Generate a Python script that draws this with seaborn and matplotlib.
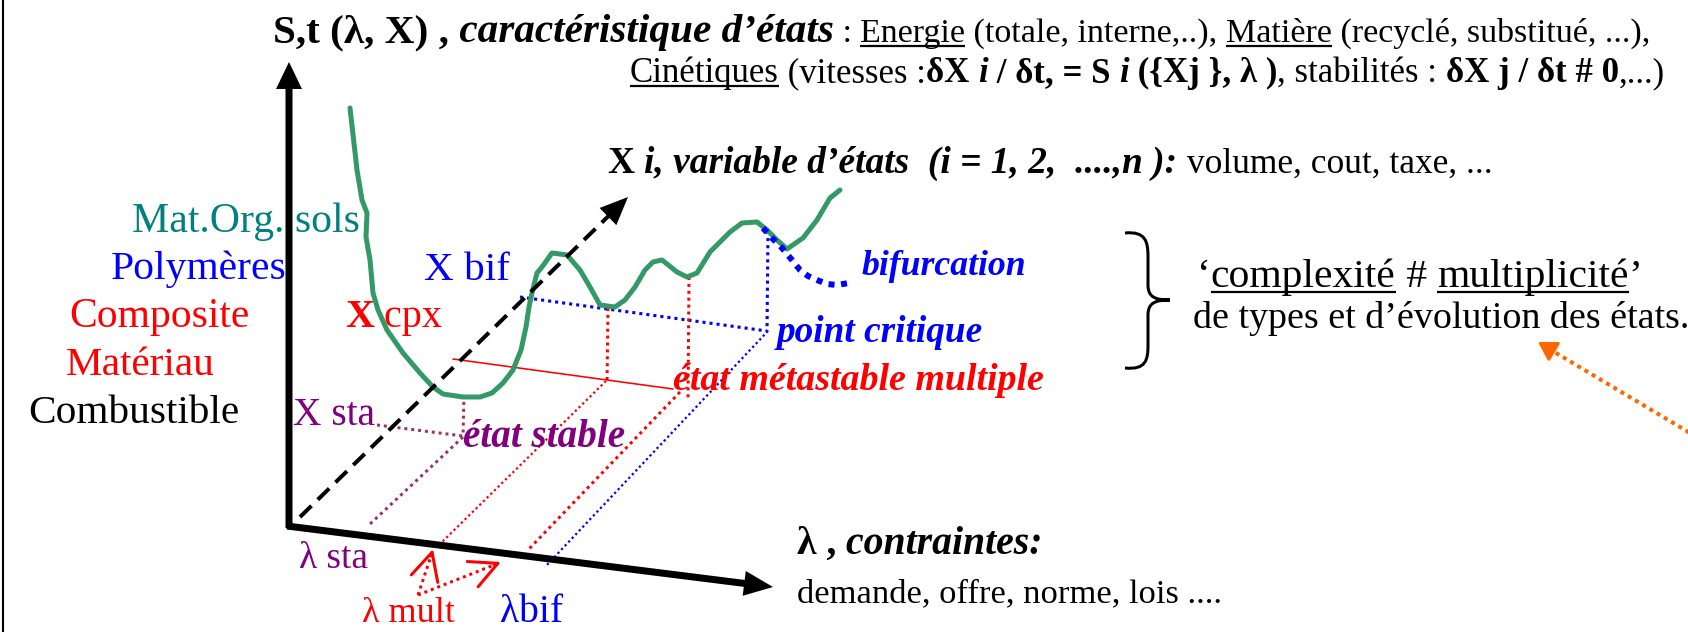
import matplotlib
matplotlib.use("Agg")
import matplotlib.pyplot as plt
import seaborn as sns
import numpy as np
from matplotlib.patches import FancyArrow, PathPatch
from matplotlib.path import Path

# ---------------- data ----------------
curve_x = [350, 357, 362, 367, 366, 370, 373, 378, 387, 403, 420, 433, 443, 463, 480, 492,
           503, 513, 521, 526, 529, 532, 537, 542, 552, 567, 580, 590, 600, 615, 625, 635,
           645, 653, 662, 677, 687, 697, 710, 730, 742, 757, 767, 777, 787, 803, 817, 830, 840]
curve_y = [108, 170, 200, 213, 237, 260, 293, 310, 330, 353, 373, 387, 394, 397, 397, 393,
           383, 370, 350, 327, 307, 293, 273, 267, 253, 255, 270, 287, 305, 307, 300, 287,
           270, 262, 260, 272, 277, 273, 252, 232, 223, 222, 230, 240, 249, 238, 220, 198, 190]
bif_x = [763, 772, 782, 792, 800, 808, 817, 827, 837, 849]
bif_y = [228, 238, 248, 260, 270, 276, 280, 284, 285, 283]

material_labels = ["Mat.Org. sols", "Polymères", "Composite", "Matériau", "Combustible"]
material_colors = ["#008080", "#0000FF", "#FF0000", "#FF0000", "#000000"]

W, H = 1688, 632
PT = 0.72  # points per pixel at dpi 100

sns.set_theme(style="white")
plt.rcParams["font.family"] = ["Liberation Serif", "DejaVu Serif"]
plt.rcParams["text.usetex"] = False

fig = plt.figure(figsize=(W / 100, H / 100), dpi=100)
ax = fig.add_axes([0, 0, 1, 1])
renderer = fig.canvas.get_renderer()

# green state curve
sns.lineplot(x=curve_x, y=curve_y, sort=False, estimator=None, color="#339966",
             lw=5 * PT, ax=ax, zorder=3)
# bifurcation branch
sns.lineplot(x=bif_x, y=bif_y, sort=False, estimator=None, color="#0000FF",
             lw=6 * PT, ax=ax, zorder=4, linestyle=(0, (1, 1.1)))
ax.lines[-1].set_dash_capstyle("butt")

ax.set_xlim(0, W)
ax.set_ylim(H, 0)
ax.axis("off")


def seg_width(s, size, weight, style):
    t1 = ax.text(0, 0, "|" + s + "|", fontsize=size, fontweight=weight, fontstyle=style)
    t2 = ax.text(0, 0, "||", fontsize=size, fontweight=weight, fontstyle=style)
    w = t1.get_window_extent(renderer).width - t2.get_window_extent(renderer).width
    t1.remove(); t2.remove()
    return w


def rich(x, y, segs, x_end=None, color="black", z=6):
    """segs: (text, weight, style, underline, px)"""
    scale = 1.0
    ws = [seg_width(s, px * PT, w, st) for s, w, st, u, px in segs]
    if x_end is not None:
        scale = (x_end - x) / sum(ws)
        ws = [seg_width(s, px * PT * scale, w, st) for s, w, st, u, px in segs]
    cx = x
    for (s, w, st, u, px), wd in zip(segs, ws):
        ax.text(cx, y, s, fontsize=px * PT * scale, fontweight=w, fontstyle=st,
                color=color, ha="left", va="baseline", zorder=z)
        if u:
            off = px * scale * 0.11
            ax.plot([cx, cx + wd], [y + off, y + off], color=color, lw=1.6, zorder=z,
                    solid_capstyle="butt")
        cx += wd


def simple(x, y, s, x_end, color, weight="normal", style="normal", px=41):
    rich(x, y, [(s, weight, style, False, px)], x_end=x_end, color=color)


N, B, I = "normal", "bold", "italic"

# ---------------- header texts ----------------
rich(273, 42, [("S,t (λ, X) ,", B, N, False, 40),
               (" caractéristique d’états", B, I, False, 40),
               (" : ", N, N, False, 33),
               ("Energie", N, N, True, 33),
               (" (totale, interne,..), ", N, N, False, 33),
               ("Matière", N, N, True, 33),
               (" (recyclé, substitué, ...),", N, N, False, 33)], x_end=1651)

rich(630, 82, [("Cinétiques", N, N, True, 34),
               (" (vitesses :", N, N, False, 34),
               ("δX ", B, N, False, 34),
               ("i", B, I, False, 34),
               (" / δt, = S ", B, N, False, 34),
               ("i", B, I, False, 34),
               (" ({Xj }, λ )", B, N, False, 34),
               (", stabilités : ", N, N, False, 34),
               ("δX j / δt # 0", B, N, False, 34),
               (",...)", N, N, False, 34)], x_end=1667)

rich(608, 173, [("X ", B, N, False, 38),
                ("i, variable d’états  (i = 1, 2,  ....,n ):", B, I, False, 38),
                (" volume, cout, taxe, ...", N, N, False, 36)], x_end=1490)

# ---------------- left category labels ----------------
label_x = [132, 111, 69, 66, 28]
label_end = [360, 286, 249, 215, 239]
label_y = [232, 279, 327, 375, 423]
for lab, c, x0, x1, yb in zip(material_labels, material_colors, label_x, label_end, label_y):
    simple(x0, yb, lab, x1, c)

# ---------------- axes arrows ----------------
ax.add_patch(FancyArrow(289, 528, 0, -466, width=7, head_width=26, head_length=27,
                        length_includes_head=True, color="black", zorder=5, lw=0))
ax.add_patch(FancyArrow(287, 526, 486, 61, width=7, head_width=25, head_length=29,
                        length_includes_head=True, color="black", zorder=5, lw=0))
# dashed X axis
x0, y0, x1, y1 = 300, 517, 628, 197
L = np.hypot(x1 - x0, y1 - y0)
ux, uy = (x1 - x0) / L, (y1 - y0) / L
ax.plot([x0, x1 - ux * 24], [y0, y1 - uy * 24], color="black", lw=4 * PT,
        linestyle=(0, (4, 2.2)), dash_capstyle="butt", zorder=4)
ax.add_patch(FancyArrow(x1 - ux * 28, y1 - uy * 28, ux * 28, uy * 28, width=0.1,
                        head_width=24, head_length=28, length_includes_head=True,
                        color="black", zorder=5, lw=0))

# ---------------- construction lines ----------------
dot = (0, (1, 1.3))
ax.plot([520, 767], [297, 331], color="#0000FF", lw=2.2 * PT * 1.4, ls=dot, zorder=2)
ax.plot([768, 767], [231, 331], color="#0000FF", lw=2.2 * PT * 1.4, ls=dot, zorder=2)
ax.plot([768, 545], [331, 567], color="#0000FF", lw=1.6 * PT * 1.4, ls=dot, zorder=2)

ax.plot([608, 607], [308, 383], color="#FF0000", lw=3 * PT, ls=dot, zorder=2)
ax.plot([689, 688], [277, 400], color="#FF0000", lw=3 * PT, ls=dot, zorder=2)
ax.plot([453, 673], [359, 389], color="#FF0000", lw=1.6 * PT, zorder=2)
ax.plot([606, 441], [381, 543], color="#FF0000", lw=1.6 * PT * 1.4, ls=dot, zorder=2)
ax.plot([680, 528], [392, 550], color="#FF0000", lw=3 * PT, ls=dot, zorder=2)

ax.plot([464, 463], [395, 436], color="#993366", lw=3 * PT, ls=dot, zorder=2)
ax.plot([377, 463], [425, 436], color="#993366", lw=3 * PT, ls=dot, zorder=2)
ax.plot([463, 370], [437, 524], color="#993366", lw=3 * PT, ls=dot, zorder=2)

# lambda mult arrows
ax.plot([418, 431], [595, 556], color="#FF0000", lw=3 * PT, ls=dot, zorder=4)
ax.plot([418, 494], [595, 565], color="#FF0000", lw=3 * PT, ls=dot, zorder=4)
ax.annotate("", xy=(433, 549), xytext=(431, 556),
            arrowprops=dict(arrowstyle="->,head_length=0.9,head_width=0.45", color="#FF0000",
                            lw=3 * PT, mutation_scale=22, shrinkA=0, shrinkB=0), zorder=6)
ax.annotate("", xy=(501, 562), xytext=(494, 565),
            arrowprops=dict(arrowstyle="->,head_length=0.9,head_width=0.45", color="#FF0000",
                            lw=3 * PT, mutation_scale=22, shrinkA=0, shrinkB=0), zorder=6)

# orange dotted arrow
ax.plot([1690, 1546], [433, 347], color="#FF6600", lw=4 * PT, ls=(0, (1, 1.1)),
        dash_capstyle="butt", zorder=3)
ax.annotate("", xy=(1538, 342), xytext=(1548, 348),
            arrowprops=dict(arrowstyle="-|>,head_length=0.5,head_width=0.3", color="#FF6600",
                            lw=3 * PT, mutation_scale=22, shrinkA=0, shrinkB=0), zorder=6)

# brace
verts = [(1125, 233), (1146, 231), (1148, 242), (1148, 257),
         (1148, 285), (1148, 285), (1148, 285),
         (1148, 297), (1155, 300), (1170, 300),
         (1155, 300), (1148, 303), (1148, 315),
         (1148, 345), (1148, 345), (1148, 345),
         (1148, 360), (1146, 370), (1125, 368)]
codes = [Path.MOVETO] + [Path.CURVE4] * 3 + [Path.CURVE4] * 3 + [Path.CURVE4] * 3 + \
        [Path.CURVE4] * 3 + [Path.CURVE4] * 3 + [Path.CURVE4] * 3
ax.add_patch(PathPatch(Path(verts, codes), fill=False, lw=3 * PT, color="black", zorder=5))

# ---------------- labels in the diagram ----------------
simple(424, 280, "X bif", 510, "#0000FF")
rich(345, 327, [("X", B, N, False, 41), (" cpx", N, N, False, 41)], x_end=442, color="#FF0000")
simple(293, 425, "X sta", 375, "#800080")
simple(299, 568, "λ sta", 368, "#800080")
simple(362, 622, "λ mult", 455, "#FF0000")
simple(500, 622, "λbif", 563, "#0000FF")
rich(797, 554, [("λ ,", B, N, False, 40), (" contraintes:", B, I, False, 40)], x_end=1043)
simple(797, 602, "demande, offre, norme, lois ....", 1220, "black", px=34)

simple(862, 275, "bifurcation", 1027, "#0000FF", B, I)
simple(777, 342, "point critique", 983, "#0000FF", B, I)
simple(673, 390, "état métastable multiple", 1045, "#FF0000", B, I)
simple(463, 447, "état stable", 625, "#800080", B, I)

rich(1197, 287, [("‘", N, N, False, 38), ("complexité", N, N, True, 38), (" # ", N, N, False, 38),
                 ("multiplicité", N, N, True, 38), ("’", N, N, False, 38)], x_end=1641)
simple(1193, 328, "de types et d’évolution des états.", 1690, "black", px=38)

# frame line at left
ax.plot([3, 3], [0, H], color="black", lw=1.5, zorder=1)

fig.savefig("out.png", dpi=100, facecolor="white")
